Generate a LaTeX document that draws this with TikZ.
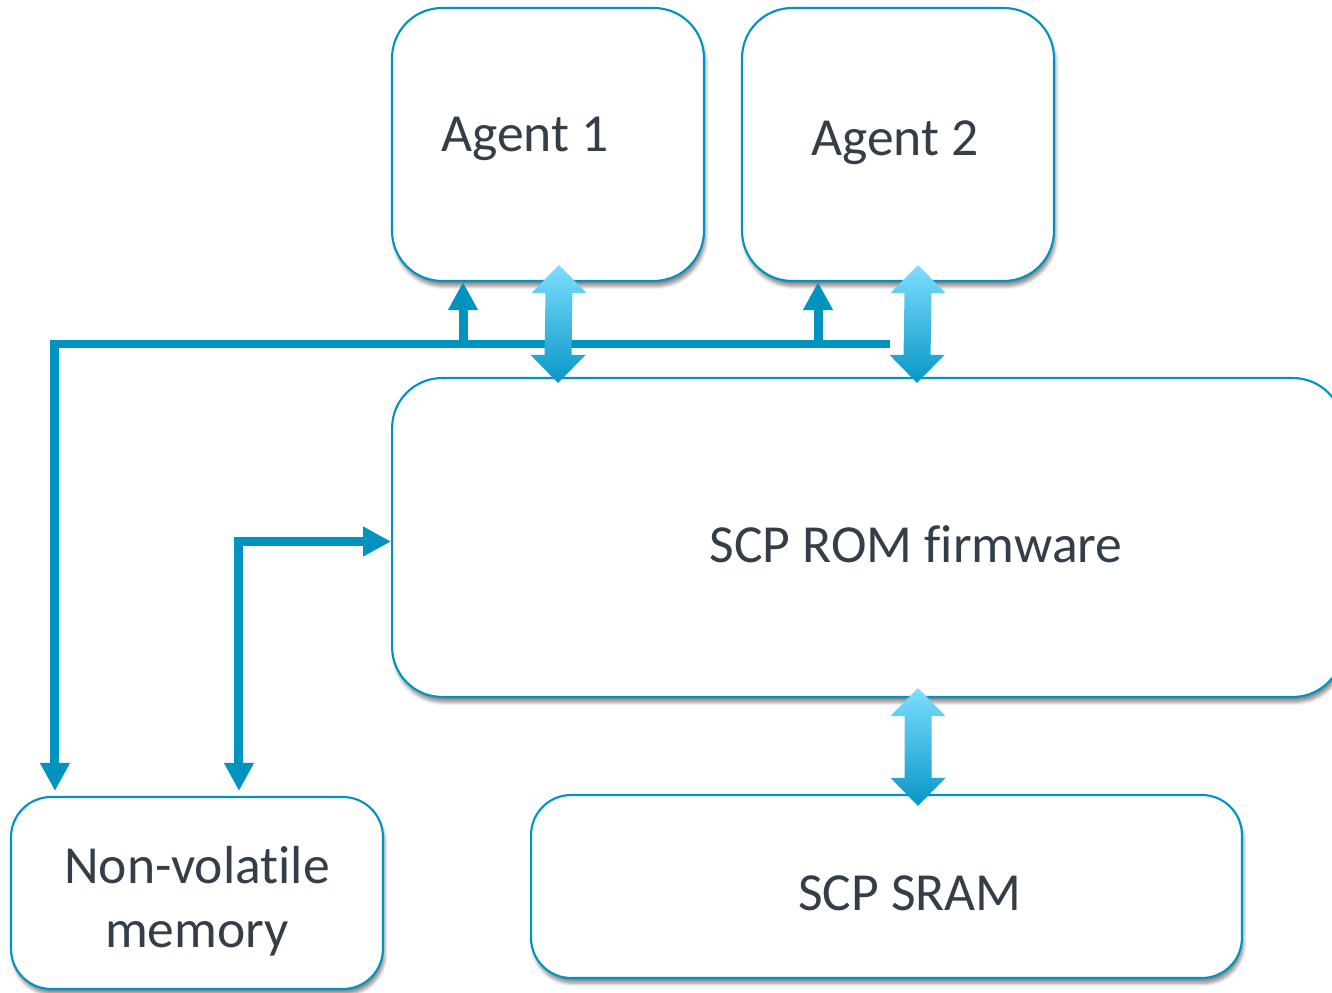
\documentclass[tikz,border=0pt]{standalone}
\usepackage{fontspec}
\setmainfont{Carlito}[Ligatures=NoCommon]
\usepackage{tikz}
\usetikzlibrary{arrows.meta}
\usetikzlibrary{calc}
\usetikzlibrary{shadows.blur}

\definecolor{scpblue}{RGB}{0,147,192}
\definecolor{scptext}{RGB}{51,62,72}
\definecolor{fattop}{RGB}{125,222,255}
\definecolor{fatmid}{RGB}{66,210,255}
\definecolor{fatbot}{RGB}{8,150,198}

\tikzset{
  blk/.style={draw=scpblue, line width=1.2pt, fill=white, rounded corners=1cm,
    blur shadow={shadow xshift=1pt, shadow yshift=-3pt, shadow blur steps=6, shadow opacity=45}},
  lbl/.style={text=scptext, font=\fontsize{30.5}{36.5}\selectfont, align=center},
  link/.style={draw=scpblue, line width=0.18cm, -{Triangle[length=0.56cm,width=0.56cm]}},
  linkboth/.style={draw=scpblue, line width=0.18cm,
    {Triangle[length=0.56cm,width=0.56cm]}-{Triangle[length=0.56cm,width=0.56cm]}},
  fat/.style={top color=fattop, middle color=fatmid, bottom color=fatbot}
}

% wide two-way arrow, #1 top tip, #2 bottom tip
\newcommand\fatlink[2]{%
  \path[fat] (#1) -- ++(27.5,28) -- ++(-14,0) -- ($(#2)+(13.5,-28)$) -- ++(14,0)
    -- (#2) -- ++(-27.5,-28) -- ++(14,0) -- ($(#1)+(-13.5,28)$) -- ++(-14,0) -- cycle;}

\begin{document}
\begin{tikzpicture}[x=0.02cm, y=-0.02cm]
	\useasboundingbox (0,0) rectangle (1332,993);
	\clip (0,0) rectangle (1332,993);

	% blocks
	\node[blk, minimum width=6.24cm, minimum height=5.46cm] (a1) at (548,144.5) {};
	\node[blk, minimum width=6.24cm, minimum height=5.46cm] (a2) at (898,144.5) {};
	\node[blk, minimum width=19.02cm, minimum height=6.38cm] (rom) at (867.5,537.5) {};
	\node[blk, rounded corners=0.8cm, minimum width=7.44cm, minimum height=3.84cm] (nv) at (197,893) {};
	\node[blk, rounded corners=0.8cm, minimum width=14.22cm, minimum height=3.66cm] (sram) at (886.5,886.5) {};

	\node[lbl, anchor=base] (a1t) at (525,152) {Agent 1};
	\node[lbl, anchor=base] (a2t) at (895,156) {Agent 2};
	\node[lbl, anchor=base] (romt) at (916,562) {SCP ROM f\kern0pt irmware};
	\node[lbl] (nvt) at (197,901) {Non-volat\kern0pt ile\\memory};
	\node[lbl, anchor=base] (sramt) at (910,910) {SCP SRAM};

	% bus
	\coordinate (busend) at (890,344);
	\coordinate (j1) at (463,344);
	\coordinate (j2) at (818,344);
	\draw[link] (busend) -| ($(nv.north west)+(45,-5)$);
	\draw[link] (j1) -- (j1 |- a1.south);
	\draw[link] (j2) -- (j2 |- a2.south);
	\draw[linkboth] ($(nv.north west)+(229,-5)$) |- ($(rom.west)+(0,4)$);

	% wide arrows
	\fatlink{$(a1.south)+(11,-17)$}{$(rom.north west)+(167,6)$}
	\fatlink{$(a2.south)+(20,-17)$}{$(rom.north west)+(526,6)$}
	\fatlink{$(rom.south)+(50.5,-10)$}{$(sram.north)+(31.5,12)$}
\end{tikzpicture}
\end{document}
